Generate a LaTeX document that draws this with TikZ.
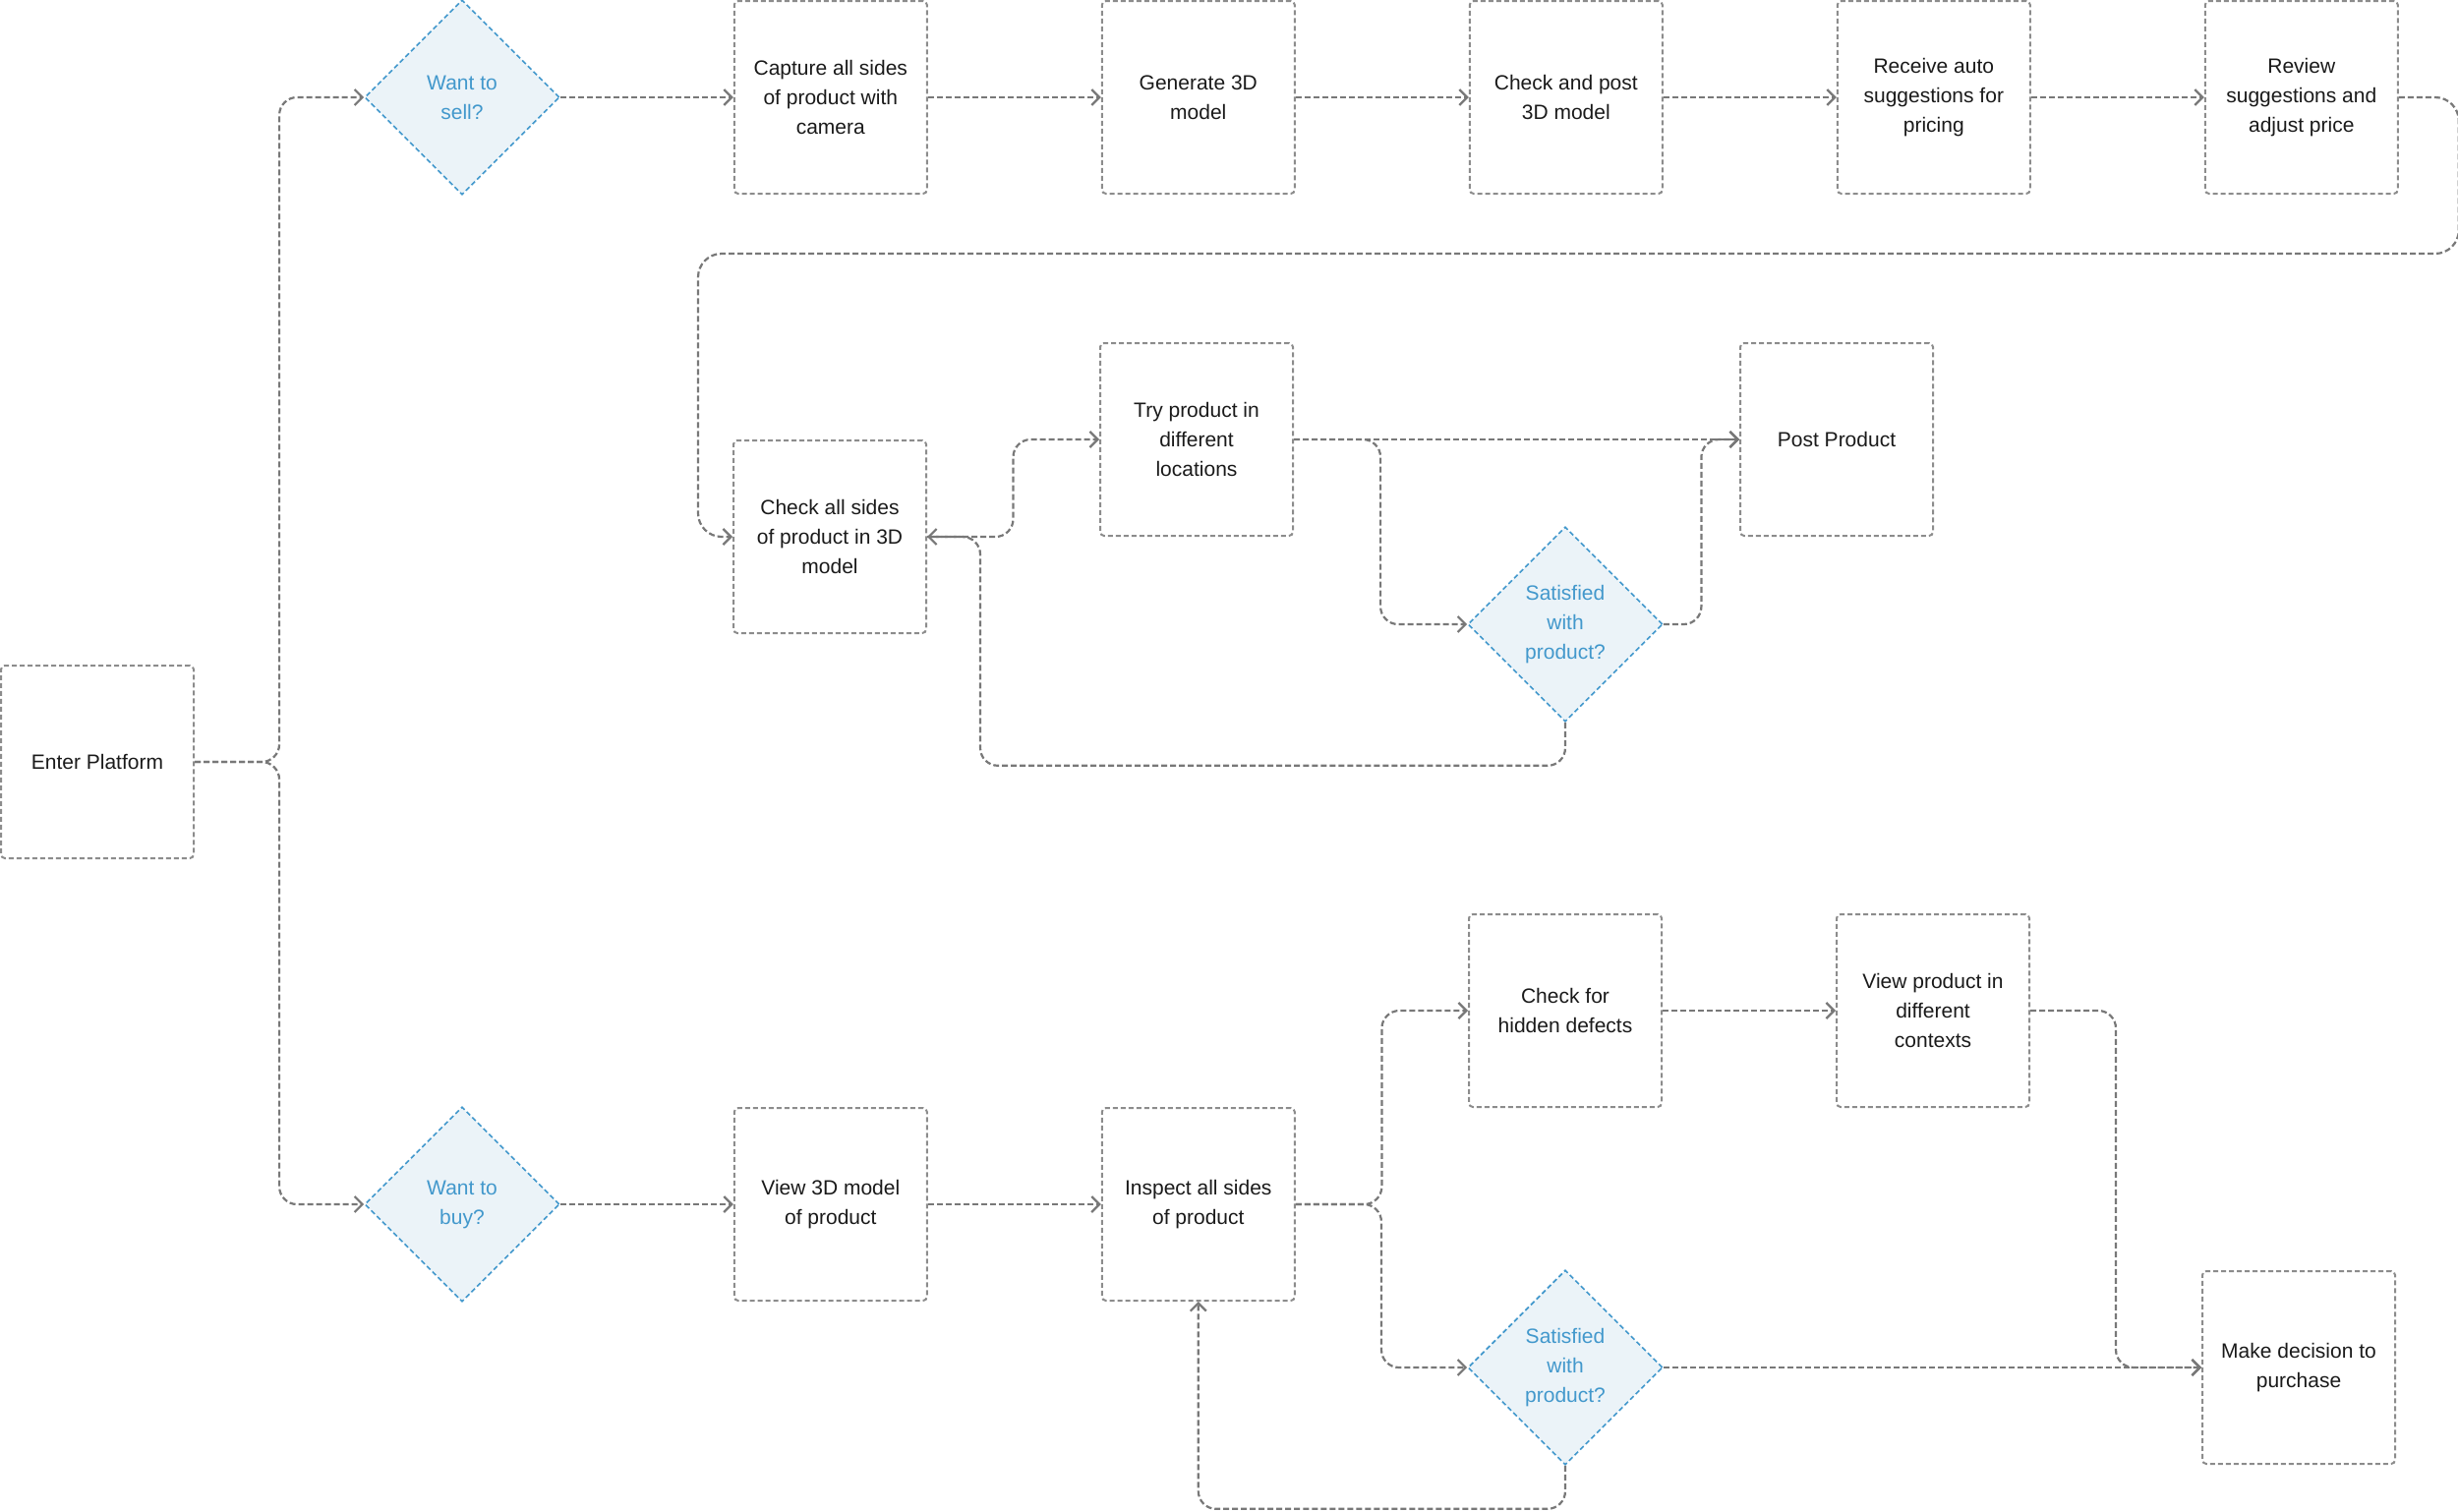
\documentclass[tikz,border=0pt]{standalone}
\usepackage{fontspec}
\setmainfont{Liberation Sans}
\usetikzlibrary{arrows.meta,positioning,shapes.geometric,calc}
\definecolor{linegray}{RGB}{120,120,120}
\definecolor{boxgray}{RGB}{140,140,140}
\definecolor{decblue}{RGB}{66,152,204}
\definecolor{decfill}{RGB}{235,243,248}
\definecolor{ink}{RGB}{26,26,26}

\tikzset{
  stepbox/.style={draw=boxgray, dash pattern=on 5pt off 3pt, line width=2pt, rounded corners=4pt,
    minimum width=196pt, minimum height=196pt, inner sep=0pt, align=center, text=ink},
  decision/.style={diamond, aspect=1, draw=decblue, fill=decfill, dash pattern=on 5pt off 3pt, line width=1.6pt,
    minimum width=198pt, minimum height=198pt, inner sep=0pt, align=center, text=decblue},
  conn/.style={draw=linegray, dash pattern=on 6pt off 3pt, line width=2.2pt, rounded corners=18pt,
    -{Straight Barb[length=8pt,width=16pt]}},
  elbow/.style={to path={-| ($(\tikztostart)!0.5!(\tikztotarget)$) |- (\tikztotarget)}}
}

\begin{document}
\begin{tikzpicture}[x=1pt, y=-1pt, font=\fontsize{21}{30}\selectfont, node distance=176pt]
  \useasboundingbox (0,0) rectangle (2500,1537);

  \node[stepbox] (enter) at (99,775) {Enter Platform};

  % selling row
  \node[decision] (sell) at (470,99) {Want to\\sell?};
  \node[stepbox, right=of sell] (capture) {Capture all sides\\of product with\\camera};
  \node[stepbox, right=of capture] (generate) {Generate 3D\\model};
  \node[stepbox, right=of generate] (checkpost) {Check and post\\3D model};
  \node[stepbox, right=of checkpost] (receive) {Receive auto\\suggestions for\\pricing};
  \node[stepbox, right=of receive] (review) {Review\\suggestions and\\adjust price};

  \node[stepbox] (check3d) at (844,546) {Check all sides\\of product in 3D\\model};
  \node[stepbox] (try) at (1217,447) {Try product in\\different\\locations};
  \node[stepbox] (post) at (1868,447) {Post Product};
  \node[decision] (satsell) at (1592,635) {Satisfied\\with\\product?};

  % buying row
  \node[decision] (buy) at (470,1225) {Want to\\buy?};
  \node[stepbox, right=of buy] (view3d) {View 3D model\\of product};
  \node[stepbox, right=of view3d] (inspect) {Inspect all sides\\of product};
  \node[stepbox] (defects) at (1592,1028) {Check for\\hidden defects};
  \node[stepbox, right=of defects] (context) {View product in\\different\\contexts};
  \node[decision] (satbuy) at (1592,1391) {Satisfied\\with\\product?};
  \node[stepbox] (decide) at (2338,1391) {Make decision to\\purchase};

  \draw[conn] (enter.east) to[elbow] (sell.west);
  \draw[conn] (enter.east) to[elbow] (buy.west);

  \draw[conn] (sell) -- (capture);
  \draw[conn] (capture) -- (generate);
  \draw[conn] (generate) -- (checkpost);
  \draw[conn] (checkpost) -- (receive);
  \draw[conn] (receive) -- (review);
  \draw[conn, rounded corners=24pt] (review.east) -- ++(61,0) -- ++(0,159)
    -| ($(check3d.west)+(-35,0)$) -- (check3d.west);

  \draw[conn] (check3d.east) to[elbow] (try.west);
  \draw[conn] (try.east) -- (post.west);
  \draw[conn] (try.east) to[elbow] (satsell.west);
  \draw[conn] (satsell.east) to[elbow] (post.west);
  \draw[conn] (satsell.south) -- ++(0,44) -| ($(check3d.east)+(54,0)$) -- (check3d.east);

  \draw[conn] (buy) -- (view3d);
  \draw[conn] (view3d) -- (inspect);
  \draw[conn] (inspect.east) to[elbow] (defects.west);
  \draw[conn] (inspect.east) to[elbow] (satbuy.west);
  \draw[conn] (defects) -- (context);
  \draw[conn] (context.east) to[elbow] (decide.west);
  \draw[conn] (satbuy.east) -- (decide.west);
  \draw[conn] (satbuy.south) -- ++(0,44) -| (inspect.south);
\end{tikzpicture}
\end{document}
